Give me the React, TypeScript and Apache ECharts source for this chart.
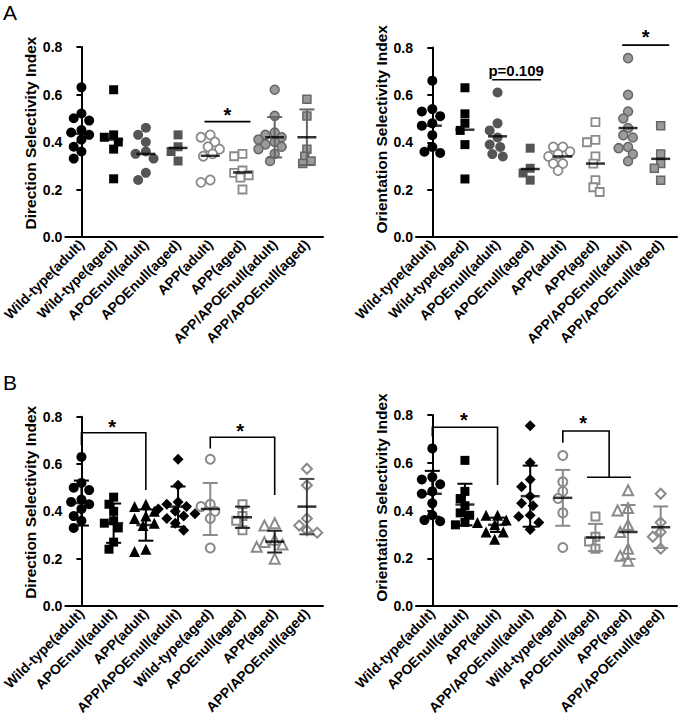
import React, { useEffect, useRef } from 'react';
import * as echarts from 'echarts';

const FONT = '"Liberation Sans", Arial, Helvetica, sans-serif';

// Group names in panel A order
const groupsA = [
  'Wild-type(adult)', 'Wild-type(aged)', 'APOEnull(adult)', 'APOEnull(aged)',
  'APP(adult)', 'APP(aged)', 'APP/APOEnull(adult)', 'APP/APOEnull(aged)',
];
// panel B shows the same groups in this order (indices into panel A order)
const orderB = [0, 2, 4, 6, 1, 3, 5, 7];

// Direction selectivity index values (panel A order)
const wtAdultDSI = [0.63, 0.52, 0.50, 0.49, 0.45, 0.44, 0.43, 0.41, 0.38, 0.36, 0.33];
const wtAgedDSI = [0.62, 0.43, 0.42, 0.40, 0.37, 0.245];
const apoeAdultDSI = [0.46, 0.43, 0.40, 0.36, 0.35, 0.33, 0.27, 0.24];
const apoeAgedDSI = [0.43, 0.38, 0.36, 0.32];
const appAdultDSI = [0.43, 0.42, 0.40, 0.38, 0.37, 0.35, 0.34, 0.24, 0.23];
const appAgedDSI = [0.35, 0.34, 0.28, 0.27, 0.26, 0.25, 0.20];
const appApoeAdultDSI = [0.62, 0.51, 0.44, 0.43, 0.42, 0.41, 0.40, 0.39, 0.38, 0.37, 0.35, 0.32];
const appApoeAgedDSI = [0.58, 0.51, 0.37, 0.34, 0.32, 0.31];
const meanDSI = [0.435, 0.41, 0.35, 0.375, 0.342, 0.272, 0.42, 0.42];
const sdDSI = [0.095, 0.11, 0.083, 0.045, 0.066, 0.046, 0.085, 0.117];

// Orientation selectivity index values (panel A order)
const wtAdultOSI = [0.66, 0.54, 0.53, 0.51, 0.48, 0.47, 0.43, 0.38, 0.36, 0.355, 0.35];
const wtAgedOSI = [0.63, 0.52, 0.48, 0.45, 0.39, 0.245];
const apoeAdultOSI = [0.61, 0.48, 0.45, 0.42, 0.39, 0.38, 0.35, 0.34];
const apoeAgedOSI = [0.375, 0.29, 0.27, 0.24];
const appAdultOSI = [0.38, 0.38, 0.36, 0.35, 0.34, 0.31, 0.31, 0.28];
const appAgedOSI = [0.485, 0.41, 0.40, 0.34, 0.31, 0.24, 0.21, 0.19];
const appApoeAdultOSI = [0.755, 0.60, 0.53, 0.50, 0.46, 0.43, 0.42, 0.38, 0.375, 0.35, 0.32];
const appApoeAgedOSI = [0.47, 0.35, 0.31, 0.29, 0.24];
const meanOSI = [0.47, 0.453, 0.425, 0.287, 0.34, 0.31, 0.46, 0.33];
const sdOSI = [0.096, 0.117, 0.087, 0.057, 0.03, 0.113, 0.128, 0.087];

const DSI = [wtAdultDSI, wtAgedDSI, apoeAdultDSI, apoeAgedDSI, appAdultDSI, appAgedDSI, appApoeAdultDSI, appApoeAgedDSI];
const OSI = [wtAdultOSI, wtAgedOSI, apoeAdultOSI, apoeAgedOSI, appAdultOSI, appAgedOSI, appApoeAdultOSI, appApoeAgedOSI];

const yTickLabels = ['0.0', '0.2', '0.4', '0.6', '0.8'];

type Sym = { symbol: string; size: number; fill: string; stroke: string; bw: number };

const styleA: Sym[] = [
  { symbol: 'circle', size: 10, fill: '#000', stroke: '#000', bw: 0 },
  { symbol: 'rect', size: 9, fill: '#000', stroke: '#000', bw: 0 },
  { symbol: 'circle', size: 10, fill: '#555', stroke: '#555', bw: 0 },
  { symbol: 'rect', size: 9, fill: '#555', stroke: '#555', bw: 0 },
  { symbol: 'circle', size: 9, fill: '#fff', stroke: '#8a8a8a', bw: 1.8 },
  { symbol: 'rect', size: 8, fill: '#fff', stroke: '#8a8a8a', bw: 1.8 },
  { symbol: 'circle', size: 9, fill: '#9a9a9a', stroke: '#666', bw: 1.5 },
  { symbol: 'rect', size: 8, fill: '#9a9a9a', stroke: '#666', bw: 1.5 },
];
// styles in panel B order
const styleB: Sym[] = [
  { symbol: 'circle', size: 10, fill: '#000', stroke: '#000', bw: 0 },
  { symbol: 'rect', size: 9, fill: '#000', stroke: '#000', bw: 0 },
  { symbol: 'triangle', size: 11, fill: '#000', stroke: '#000', bw: 0 },
  { symbol: 'diamond', size: 11, fill: '#000', stroke: '#000', bw: 0 },
  { symbol: 'circle', size: 9, fill: '#fff', stroke: '#8a8a8a', bw: 2 },
  { symbol: 'rect', size: 8, fill: '#fff', stroke: '#8a8a8a', bw: 2 },
  { symbol: 'triangle', size: 10, fill: '#fff', stroke: '#8a8a8a', bw: 2 },
  { symbol: 'diamond', size: 10, fill: '#fff', stroke: '#8a8a8a', bw: 2 },
];

type Annot = { lines: number[][][]; texts: { x: number; y: number; text: string; size: number }[] };

const grids = [
  { left: 60, top: 47, width: 263, height: 190 },
  { left: 416, top: 47.5, width: 261, height: 189.5 },
  { left: 60, top: 416.7, width: 263, height: 189.3 },
  { left: 416, top: 415, width: 261, height: 191 },
];
const nameGaps = [21, 27, 21, 27];
const namePads = [18, 26, 18, 26];

type Panel = {
  cats: string[];
  vals: number[][];
  means: number[];
  sds: (number | null)[];
  styles: Sym[];
  errColors: string[];
  yName: string;
  annot: Annot;
};

const pick = <T,>(arr: T[]) => orderB.map((i) => arr[i]);

const panels: Panel[] = [
  {
    cats: groupsA, vals: DSI, means: meanDSI,
    sds: [null, null, null, null, null, null, sdDSI[6], sdDSI[7]],
    styles: styleA, errColors: Array(8).fill('#666'),
    yName: 'Direction Selectivity Index',
    annot: { lines: [[[3.82, 0.486], [5.25, 0.486]]], texts: [{ x: 4.53, y: 0.515, text: '*', size: 20 }] },
  },
  {
    cats: groupsA, vals: OSI, means: meanOSI,
    sds: Array(8).fill(null),
    styles: styleA, errColors: Array(8).fill('#666'),
    yName: 'Orientation Selectivity Index',
    annot: {
      lines: [[[1.83, 0.664], [3.33, 0.664]], [[5.82, 0.81], [7.26, 0.81]]],
      texts: [{ x: 2.57, y: 0.703, text: 'p=0.109', size: 15 }, { x: 6.54, y: 0.845, text: '*', size: 20 }],
    },
  },
  {
    cats: pick(groupsA), vals: pick(DSI), means: pick(meanDSI), sds: pick(sdDSI),
    styles: styleB, errColors: ['#000', '#000', '#000', '#000', '#8a8a8a', '#222', '#222', '#444'],
    yName: 'Direction Selectivity Index',
    annot: {
      lines: [
        [[0, 0.68], [0, 0.732], [2, 0.732], [2, 0.49]],
        [[4, 0.666], [4, 0.713], [6, 0.713], [6, 0.469]],
      ],
      texts: [{ x: 0.95, y: 0.758, text: '*', size: 20 }, { x: 4.93, y: 0.741, text: '*', size: 20 }],
    },
  },
  {
    cats: pick(groupsA), vals: pick(OSI), means: pick(meanOSI), sds: pick(sdOSI),
    styles: styleB, errColors: ['#000', '#000', '#000', '#000', '#8a8a8a', '#8a8a8a', '#8a8a8a', '#8a8a8a'],
    yName: 'Orientation Selectivity Index',
    annot: {
      lines: [
        [[0, 0.71], [0, 0.749], [2, 0.749], [2, 0.507]],
        [[4, 0.684], [4, 0.733], [5.42, 0.733], [5.42, 0.539]],
        [[4.74, 0.539], [6.09, 0.539]],
      ],
      texts: [{ x: 0.97, y: 0.78, text: '*', size: 20 }, { x: 4.62, y: 0.765, text: '*', size: 20 }],
    },
  },
];

// simple beeswarm: horizontal offsets (in category units) so that symbols do not overlap
function swarm(vals: number[], pxY: number, pxX: number, d: number): number[] {
  const placed: { x: number; y: number }[] = [];
  const order = vals.map((v, i) => ({ v, i })).sort((a, b) => b.v - a.v);
  const out: number[] = new Array(vals.length).fill(0);
  const step = d / 4;
  for (const p of order) {
    const y = p.v * pxY;
    let chosen = 0;
    for (let k = 0; k < 40; k++) {
      const x = Math.ceil(k / 2) * (k % 2 === 1 ? -1 : 1) * step;
      if (placed.every((q) => Math.hypot(q.x - x, q.y - y) >= d * 0.85)) { chosen = x; break; }
    }
    placed.push({ x: chosen, y });
    out[p.i] = chosen / pxX;
  }
  return out;
}

function buildOption() {
  const xAxis: any[] = [];
  const yAxis: any[] = [];
  const series: any[] = [];
  panels.forEach((pn, p) => {
    const g = grids[p];
    xAxis.push({
      gridIndex: p, type: 'category', data: pn.cats, boundaryGap: true,
      axisLine: { lineStyle: { color: '#000', width: 2 } },
      axisTick: { alignWithLabel: true, length: 5, lineStyle: { color: '#000', width: 2 } },
      axisLabel: { rotate: 45, interval: 0, color: '#000', fontWeight: 'bold', fontSize: 14, fontFamily: FONT, margin: 5 },
      splitLine: { show: false },
    });
    xAxis.push({ gridIndex: p, type: 'value', min: -0.5, max: 7.5, show: false });
    yAxis.push({
      gridIndex: p, type: 'value', min: 0, max: 0.8, interval: 0.2,
      axisLine: { show: true, lineStyle: { color: '#000', width: 2 } },
      axisTick: { show: true, length: 5, lineStyle: { color: '#000', width: 2 } },
      splitLine: { show: false },
      axisLabel: {
        formatter: (v: number) => yTickLabels[Math.round(v / 0.2)] ?? '',
        color: '#000', fontWeight: 'bold', fontSize: 14, fontFamily: FONT, margin: 3,
      },
      name: pn.yName, nameLocation: 'middle', nameGap: nameGaps[p],
      nameTextStyle: {
        color: '#000', fontWeight: 'bold', fontSize: 15.5, fontFamily: FONT,
        padding: [0, 0, 0, namePads[p]],
      },
    });
    const pxY = g.height / 0.8;
    const pxX = g.width / 8;
    pn.vals.forEach((vals, i) => {
      const st = pn.styles[i];
      const offs = swarm(vals, pxY, pxX, st.size + 0.5);
      series.push({
        type: 'scatter', xAxisIndex: 2 * p + 1, yAxisIndex: p, silent: true, z: 2,
        symbol: st.symbol, symbolSize: st.size,
        itemStyle: { color: st.fill, borderColor: st.stroke, borderWidth: st.bw, opacity: 1 },
        data: vals.map((v, k) => [i + offs[k], v]),
      });
    });
    const errData: number[][] = [];
    const errCol: string[] = [];
    pn.sds.forEach((sd, i) => {
      if (sd != null) { errData.push([i, pn.means[i] - sd, pn.means[i] + sd]); errCol.push(pn.errColors[i]); }
    });
    if (errData.length) {
      series.push({
        type: 'custom', xAxisIndex: 2 * p + 1, yAxisIndex: p, silent: true, z: 3,
        data: errData,
        renderItem: (params: any, api: any) => {
          const x = api.value(0);
          const lo = api.coord([x, api.value(1)]);
          const hi = api.coord([x, api.value(2)]);
          const col = errCol[params.dataIndex];
          const w = 7.5;
          const style = { stroke: col, lineWidth: 2 };
          return {
            type: 'group',
            children: [
              { type: 'line', shape: { x1: lo[0], y1: lo[1], x2: hi[0], y2: hi[1] }, style },
              { type: 'line', shape: { x1: lo[0] - w, y1: lo[1], x2: lo[0] + w, y2: lo[1] }, style },
              { type: 'line', shape: { x1: hi[0] - w, y1: hi[1], x2: hi[0] + w, y2: hi[1] }, style },
            ],
          };
        },
      });
    }
    series.push({
      type: 'scatter', xAxisIndex: 2 * p + 1, yAxisIndex: p, silent: true, z: 4,
      symbol: 'rect', symbolSize: [19, 2.5], itemStyle: { color: '#000' },
      data: pn.means.map((m, i) => [i, m]),
    });
    const an = pn.annot;
    series.push({
      type: 'custom', xAxisIndex: 2 * p + 1, yAxisIndex: p, silent: true, z: 5, clip: false,
      data: [[0, 0]],
      renderItem: (_params: any, api: any) => {
        const children: any[] = [];
        an.lines.forEach((ln) => {
          children.push({
            type: 'polyline',
            shape: { points: ln.map((pt) => api.coord(pt)) },
            style: { stroke: '#000', lineWidth: 1.6, fill: null },
          });
        });
        an.texts.forEach((t) => {
          const c = api.coord([t.x, t.y]);
          children.push({
            type: 'text', x: c[0], y: c[1],
            style: {
              text: t.text, fill: '#000', font: `bold ${t.size}px ${FONT}`,
              textAlign: 'center', textVerticalAlign: 'middle',
            },
          });
        });
        return { type: 'group', children };
      },
    });
  });
  return {
    animation: false,
    backgroundColor: '#fff',
    grid: grids.map((g) => ({ ...g, containLabel: false })),
    xAxis, yAxis, series,
    graphic: [
      { type: 'text', left: 3, top: 2, style: { text: 'A', font: `21px ${FONT}`, fill: '#000' } },
      { type: 'text', left: 3, top: 372, style: { text: 'B', font: `21px ${FONT}`, fill: '#000' } },
    ],
  };
}

export default function App() {
  const ref = useRef<HTMLDivElement>(null);
  useEffect(() => {
    if (!ref.current) return;
    const chart = echarts.init(ref.current, undefined, { renderer: 'svg' });
    chart.setOption(buildOption() as any);
    return () => chart.dispose();
  }, []);
  return (
    <div
      ref={ref}
      style={{ position: 'fixed', left: 0, top: 0, width: 679, height: 728, background: '#fff' }}
    />
  );
}
